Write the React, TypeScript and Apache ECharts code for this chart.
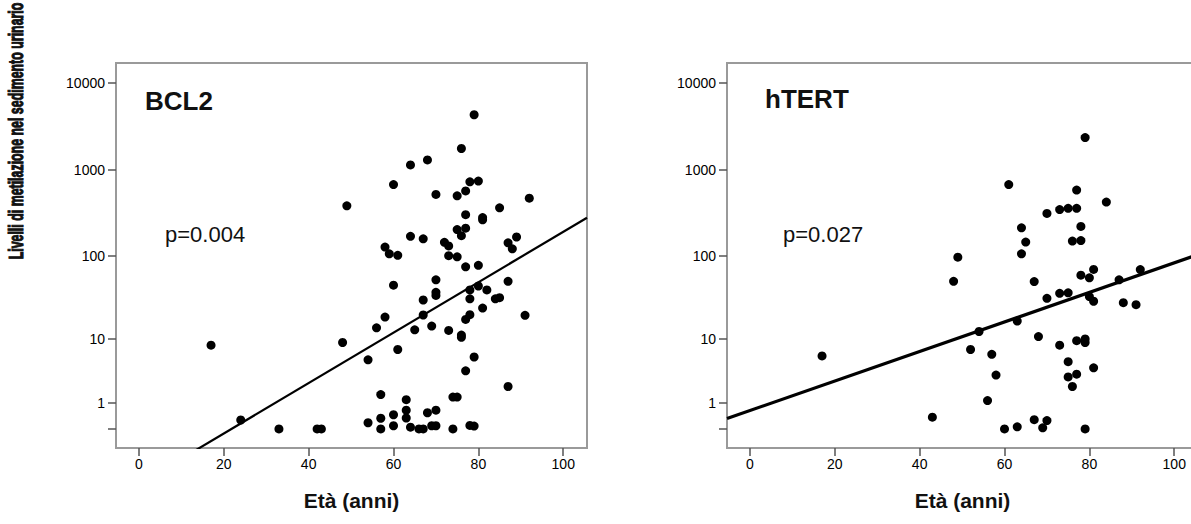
import React, { useEffect, useRef } from 'react';
import * as echarts from 'echarts';

// ---- data ----
const BCL2_AGE = [17, 24, 33, 42, 43, 48, 79, 76, 64, 68, 60, 49, 78, 80, 70, 75, 77, 92, 85, 77, 81, 81, 75, 77, 76, 64, 67, 89, 87, 88, 72, 73, 58, 59, 61, 73, 75, 77, 80, 60, 70, 70, 70, 67, 78, 80, 82, 78, 87, 84, 85, 81, 78, 77, 91, 58, 56, 67, 65, 69, 73, 76, 76, 61, 54, 79, 77, 87, 57, 63, 74, 75, 63, 68, 70, 60, 57, 63, 54, 60, 57, 64, 66, 67, 69, 70, 74, 78, 79];
const BCL2_LEVEL = [8.3, 0.27, 0, 0, 0, 9, 4300, 1750, 1130, 1290, 670, 380, 720, 735, 515, 495, 565, 465, 360, 300, 277, 261, 201, 209, 171, 168, 157, 165, 141, 120, 143, 130, 126, 105, 101, 100, 97, 74, 77, 45, 52, 37, 34, 30, 39.5, 44, 39.5, 31, 50, 31, 32, 24, 20, 17.5, 19.6, 18.7, 13.8, 19.8, 13, 14.5, 12.8, 11.2, 10.5, 7.3, 5.3, 5.8, 3.7, 2.1, 1.5, 1.18, 1.34, 1.34, 0.65, 0.54, 0.65, 0.46, 0.33, 0.34, 0.18, 0.09, 0, 0.05, 0, 0, 0.09, 0.09, 0, 0.1, 0.08];

const HTERT_AGE = [17, 43, 48, 49, 79, 61, 77, 84, 70, 73, 75, 77, 78, 76, 78, 64, 65, 64, 67, 70, 73, 75, 78, 80, 81, 80, 81, 87, 92, 88, 91, 63, 54, 52, 57, 68, 73, 77, 79, 79, 75, 58, 75, 77, 76, 81, 56, 60, 63, 67, 70, 69, 79];
const HTERT_LEVEL = [6, 0.37, 50, 96, 2340, 669, 578, 420, 310, 343, 355, 355, 219, 148, 150, 211, 144, 105, 49.6, 31.4, 36, 36.5, 59, 55, 69, 33, 29, 52, 68.7, 27.9, 26.4, 16.7, 12.4, 7.3, 6.3, 10.7, 8.3, 9.5, 10, 9, 5, 3.2, 3, 3.3, 2.1, 4.1, 1.13, 0, 0.06, 0.28, 0.25, 0.03, 0];

// regression lines on log10(level + 1): [intercept, slope]
const BCL2_FIT = [-0.636, 0.02916];
const HTERT_FIT = [0.213, 0.01708];

const PANEL_TITLES = ['BCL2', 'hTERT'];
const P_VALUES = ['p=0.004', 'p=0.027'];
const X_TICKS = [0, 20, 40, 60, 80, 100];
const Y_TICK_VALUES = [0, 1, 10, 100, 1000, 10000];
const Y_TICK_LABELS = ['', '1', '10', '100', '1000', '10000'];
const X_NAME = 'Età (anni)';
const Y_NAME = 'Livelli di metilazione nel sedimento urinario';

const X_MIN = -5.4;
const X_MAX = 105.6;
const Y_MIN = -0.22;
const Y_MAX = 4.232;

const FONT = '"Liberation Sans", Arial, Helvetica, sans-serif';
const toY = (v: number) => Math.log10(v + 1);

export default function App() {
  const ref = useRef<HTMLDivElement>(null);

  useEffect(() => {
    if (!ref.current) return;
    const chart = echarts.init(ref.current, null, { renderer: 'svg' });

    const frame = '#9a9a9a';
    const tickColor = '#555';
    const grids = [
      { left: 116, top: 63, width: 471, height: 385 },
      { left: 727, top: 63, width: 471, height: 385 },
    ];

    const xAxes = grids.map((_, i) => ({
      type: 'value',
      gridIndex: i,
      min: X_MIN,
      max: X_MAX,
      axisLine: { show: true, onZero: false, lineStyle: { color: frame, width: 2 } },
      axisTick: { show: true, length: 8, customValues: X_TICKS, lineStyle: { color: tickColor, width: 1.5 } },
      axisLabel: { customValues: X_TICKS, fontSize: 14, color: '#000', margin: 9, fontFamily: FONT },
      splitLine: { show: false },
      name: X_NAME,
      nameLocation: 'middle',
      nameGap: 42,
      nameTextStyle: { fontSize: 21, fontWeight: 'bold', color: '#111', fontFamily: FONT },
    }));

    const yAxes = grids.map((_, i) => ({
      type: 'value',
      gridIndex: i,
      min: Y_MIN,
      max: Y_MAX,
      axisLine: { show: true, onZero: false, lineStyle: { color: frame, width: 2 } },
      axisTick: { show: true, length: 8, customValues: Y_TICK_VALUES.map(toY), lineStyle: { color: tickColor, width: 1.5 } },
      axisLabel: {
        customValues: Y_TICK_VALUES.slice(1).map(toY),
        fontSize: 14,
        color: '#000',
        margin: 11,
        fontFamily: FONT,
        formatter: (val: number) => {
          const k = Y_TICK_VALUES.findIndex((t) => Math.abs(toY(t) - val) < 1e-6);
          return k >= 0 ? Y_TICK_LABELS[k] : '';
        },
      },
      splitLine: { show: false },
    }));

    const panels = [
      { age: BCL2_AGE, level: BCL2_LEVEL, fit: BCL2_FIT, lw: 2.2 },
      { age: HTERT_AGE, level: HTERT_LEVEL, fit: HTERT_FIT, lw: 3.2 },
    ];

    const series: any[] = [];
    panels.forEach((p, i) => {
      series.push({
        type: 'line',
        xAxisIndex: i,
        yAxisIndex: i,
        data: [X_MIN, X_MAX].map((x) => [x, p.fit[0] + p.fit[1] * x]),
        showSymbol: false,
        symbol: 'none',
        clip: true,
        silent: true,
        lineStyle: { color: '#000', width: p.lw },
        z: 2,
      });
      series.push({
        type: 'scatter',
        xAxisIndex: i,
        yAxisIndex: i,
        data: p.age.map((a, k) => [a, toY(p.level[k])]),
        symbol: 'circle',
        symbolSize: 9,
        itemStyle: { color: '#000', opacity: 1 },
        z: 3,
      });
    });

    const graphic: any[] = [
      {
        type: 'text',
        x: 16,
        y: 131,
        rotation: Math.PI / 2,
        scaleX: 0.59,
        style: {
          text: Y_NAME,
          fontSize: 21,
          fontWeight: 'bold',
          fontFamily: FONT,
          fill: '#111',
          stroke: '#111',
          lineWidth: 1.1,
          align: 'center',
          verticalAlign: 'middle',
        },
      },
    ];
    const titlePos = [
      { tx: 145, ty: 101, px: 165, py: 234 },
      { tx: 765, ty: 99, px: 783, py: 234 },
    ];
    titlePos.forEach((t, i) => {
      graphic.push({
        type: 'text',
        x: t.tx,
        y: t.ty,
        style: { text: PANEL_TITLES[i], fontSize: 26, fontWeight: 'bold', fontFamily: FONT, fill: '#111', align: 'left', verticalAlign: 'middle' },
      });
      graphic.push({
        type: 'text',
        x: t.px,
        y: t.py,
        style: { text: P_VALUES[i], fontSize: 22, fontFamily: FONT, fill: '#111', align: 'left', verticalAlign: 'middle' },
      });
    });

    chart.setOption({
      animation: false,
      backgroundColor: '#fff',
      grid: grids.map((g) => ({ ...g, show: true, borderColor: frame, borderWidth: 2, backgroundColor: 'transparent', containLabel: false, outerBoundsMode: 'none' })),
      xAxis: xAxes,
      yAxis: yAxes,
      series,
      graphic,
    });

    return () => chart.dispose();
  }, []);

  return (
    <div
      ref={ref}
      style={{ position: 'fixed', left: 0, top: 0, width: 1191, height: 524, background: '#fff' }}
    />
  );
}
